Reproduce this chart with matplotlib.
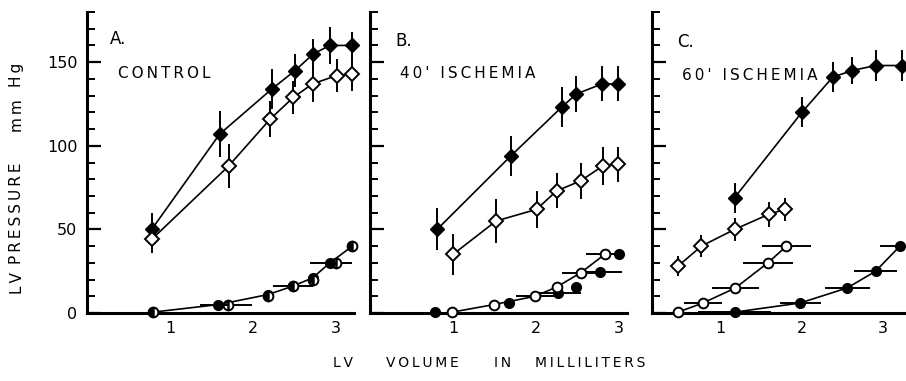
import matplotlib
matplotlib.use("Agg")
import matplotlib.pyplot as plt
from matplotlib.ticker import MultipleLocator, FixedLocator

plt.rcParams['font.family'] = ['DejaVu Sans']

# ---------------- data ----------------
# Panel A: control
A_fd_x = [0.78, 1.60, 2.23, 2.51, 2.73, 2.93, 3.20]
A_fd_y = [50, 107, 134, 145, 155, 160, 160]
A_fd_e = [10, 14, 12, 10, 9, 11, 8]
A_od_x = [0.78, 1.71, 2.21, 2.49, 2.72, 3.01, 3.20]
A_od_y = [44, 88, 116, 129, 137, 142, 143]
A_od_e = [8, 13, 11, 10, 11, 10, 10]
A_fc_x = [0.79, 1.58, 2.18, 2.48, 2.72, 2.93, 3.20]
A_fc_y = [0.5, 5, 11, 16, 21, 30, 40]
A_fc_xe = [0, 0.22, 0, 0, 0, 0.24, 0]
A_oc_x = [0.79, 1.70, 2.18, 2.48, 2.72, 3.00, 3.20]
A_oc_y = [0.5, 5, 10, 16, 20, 30, 40]
A_oc_xe = [0, 0.29, 0, 0.24, 0, 0.20, 0]

# Panel B: 40' ischemia
B_fd_x = [0.81, 1.70, 2.31, 2.49, 2.80, 2.99]
B_fd_y = [50, 94, 123, 131, 137, 137]
B_fd_e = [12.5, 12, 12, 11, 10.5, 10.5]
B_od_x = [1.00, 1.52, 2.01, 2.25, 2.54, 2.81, 2.99]
B_od_y = [35, 55, 62, 73, 79, 88, 89]
B_od_e = [12.5, 13, 11, 10.5, 11, 11.5, 10.5]
B_fc_x = [0.78, 1.68, 2.27, 2.49, 2.77, 3.00]
B_fc_y = [0.5, 6, 12, 15.5, 24.5, 35]
B_fc_xe = [0, 0, 0.28, 0, 0.27, 0]
B_oc_x = [0.99, 1.49, 1.99, 2.25, 2.54, 2.83]
B_oc_y = [0.5, 5, 10, 15.5, 24, 35]
B_oc_xe = [0, 0, 0.23, 0, 0.22, 0.23]

# Panel C: 60' ischemia
C_fd_x = [1.17, 2.00, 2.38, 2.62, 2.91, 3.23]
C_fd_y = [69, 120, 141, 145, 148, 148]
C_fd_e = [9, 9, 9, 8, 9, 9]
C_od_x = [0.47, 0.76, 1.17, 1.59, 1.79]
C_od_y = [28, 40, 50, 59, 62]
C_od_e = [6, 6.5, 7, 7.5, 7]
C_oc_x = [0.47, 0.78, 1.18, 1.58, 1.81]
C_oc_y = [0.5, 6, 15, 30, 40]
C_oc_xe = [0, 0.23, 0.29, 0.31, 0.30]
C_fc_x = [1.17, 1.98, 2.56, 2.91, 3.21]
C_fc_y = [0.5, 6, 15, 25, 40]
C_fc_xe = [0.45, 0.25, 0.28, 0.27, 0.25]

x_ticks = [1, 2, 3]
x_tick_labels = ["1", "2", "3"]
y_ticks = [0, 50, 100, 150]
y_tick_labels = ["0", "50", "100", "150"]
panel_letters = ["A.", "B.", "C."]
panel_titles = ["CONTROL", "40' ISCHEMIA", "60' ISCHEMIA"]

# ---------------- layout ----------------
W, H = 906, 381
fig = plt.figure(figsize=(W / 100, H / 100), dpi=100)


def px_axes(left, right, bottom, top):
    return fig.add_axes([left / W, 1 - bottom / H, (right - left) / W, (bottom - top) / H])


def spaced(s):
    return "\u2009".join(list(s))


ax_specs = [
    (87, 354, (0.0, 3.22)),
    (370, 627, (0.0, 3.10)),
    (652, 906, (0.15, 3.285)),
]

LW = 1.2
ELW = 1.4
MS_D = 7
MS_C = 7


def errs(ax, x, y, xe=None, ye=None):
    ax.errorbar(x, y, xerr=xe, yerr=ye, fmt='none', ecolor='black',
                elinewidth=ELW, capsize=0, zorder=3, clip_on=False)


def line(ax, x, y):
    ax.plot(x, y, '-', color='black', lw=LW, zorder=2, clip_on=False)


def filled_d(ax, x, y):
    ax.plot(x, y, 'D', ms=MS_D, mfc='black', mec='black', mew=1.0, zorder=5, clip_on=False)


def open_d(ax, x, y):
    ax.plot(x, y, 'D', ms=MS_D, mfc='white', mec='black', mew=1.4, zorder=5, clip_on=False)


def filled_c(ax, x, y):
    ax.plot(x, y, 'o', ms=MS_C, mfc='black', mec='black', mew=1.0, zorder=5, clip_on=False)


def open_c(ax, x, y, half=False):
    if half:
        ax.plot(x, y, 'o', ms=MS_C, fillstyle='right', mfc='white', mfcalt='none',
                mec='black', mew=1.4, zorder=6, clip_on=False)
    else:
        ax.plot(x, y, 'o', ms=MS_C, mfc='white', mec='black', mew=1.4, zorder=6, clip_on=False)


axes = []
for i, (l, r, xl) in enumerate(ax_specs):
    ax = px_axes(l, r, 313, 12)
    ax.set_xlim(*xl)
    ax.set_ylim(0, 180)
    for s in ['top', 'right']:
        ax.spines[s].set_visible(False)
    for s in ['left', 'bottom']:
        ax.spines[s].set_linewidth(2.2)
    ax.yaxis.set_major_locator(FixedLocator(y_ticks))
    ax.yaxis.set_minor_locator(MultipleLocator(10))
    ax.tick_params(axis='y', which='major', direction='in', length=10, width=1.6, pad=7,
                   labelsize=11.5)
    ax.tick_params(axis='y', which='minor', direction='in', length=6, width=1.4)
    ax.xaxis.set_major_locator(FixedLocator(x_ticks))
    ax.set_xticklabels(x_tick_labels)
    ax.tick_params(axis='x', which='major', length=0, pad=6, labelsize=11.5)
    if i == 0:
        ax.set_yticklabels(y_tick_labels)
    else:
        ax.set_yticklabels([])
    axes.append(ax)

axA, axB, axC = axes

# Panel A
line(axA, A_fd_x, A_fd_y); errs(axA, A_fd_x, A_fd_y, ye=A_fd_e); filled_d(axA, A_fd_x, A_fd_y)
line(axA, A_od_x, A_od_y); errs(axA, A_od_x, A_od_y, ye=A_od_e); open_d(axA, A_od_x, A_od_y)
line(axA, A_fc_x, A_fc_y)
errs(axA, A_fc_x, A_fc_y, xe=A_fc_xe); errs(axA, A_oc_x, A_oc_y, xe=A_oc_xe)
filled_c(axA, A_fc_x, A_fc_y); open_c(axA, A_oc_x, A_oc_y, half=True)

# Panel B
line(axB, B_fd_x, B_fd_y); errs(axB, B_fd_x, B_fd_y, ye=B_fd_e); filled_d(axB, B_fd_x, B_fd_y)
line(axB, B_od_x, B_od_y); errs(axB, B_od_x, B_od_y, ye=B_od_e); open_d(axB, B_od_x, B_od_y)
line(axB, B_oc_x, B_oc_y)
errs(axB, B_fc_x, B_fc_y, xe=B_fc_xe); errs(axB, B_oc_x, B_oc_y, xe=B_oc_xe)
filled_c(axB, B_fc_x, B_fc_y); open_c(axB, B_oc_x, B_oc_y)

# Panel C
line(axC, C_fd_x, C_fd_y); errs(axC, C_fd_x, C_fd_y, ye=C_fd_e); filled_d(axC, C_fd_x, C_fd_y)
line(axC, C_od_x, C_od_y); errs(axC, C_od_x, C_od_y, ye=C_od_e); open_d(axC, C_od_x, C_od_y)
line(axC, C_oc_x, C_oc_y); errs(axC, C_oc_x, C_oc_y, xe=C_oc_xe); open_c(axC, C_oc_x, C_oc_y)
line(axC, C_fc_x, C_fc_y); errs(axC, C_fc_x, C_fc_y, xe=C_fc_xe); filled_c(axC, C_fc_x, C_fc_y)

# panel texts (pixel positions)
letter_pos = [(110, 39), (395, 41), (677, 42)]
title_pos = [(118, 74), (400, 74), (682, 76)]
for (lx, ly), (tx, ty), lt, tt in zip(letter_pos, title_pos, panel_letters, panel_titles):
    fig.text(lx / W, 1 - ly / H, lt, fontsize=12, ha='left', va='center')
    fig.text(tx / W, 1 - ty / H, spaced(tt), fontsize=11, ha='left', va='center')

# x-axis label words
for word, cx in [("LV", 343), ("VOLUME", 422), ("IN", 503), ("MILLILITERS", 590)]:
    fig.text(cx / W, 1 - 363 / H, spaced(word), fontsize=10, ha='center', va='center')

# y-axis label words
for word, cy in [("LV", 283), ("PRESSURE", 213), ("mm", 116), ("Hg", 75)]:
    fig.text(17 / W, 1 - cy / H, spaced(word), fontsize=11, ha='center', va='center',
             rotation=90)

fig.savefig("out.png", dpi=100)
